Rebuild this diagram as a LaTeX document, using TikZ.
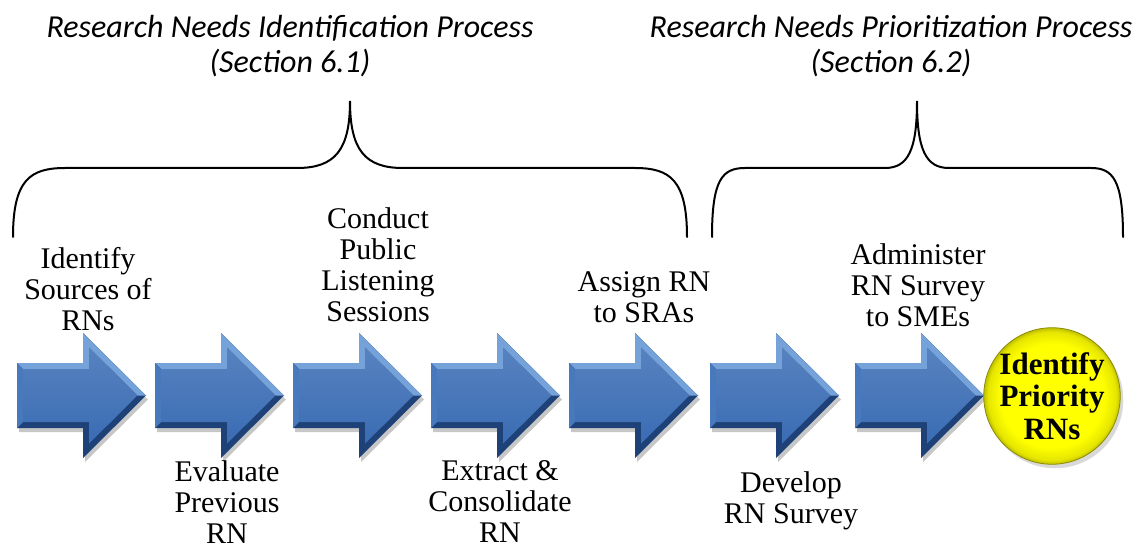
\documentclass[tikz,border=0pt]{standalone}
\usepackage{fontspec}
\setmainfont{Liberation Serif}
\newfontfamily\headfont{Carlito}
\usetikzlibrary{shadows}

\definecolor{stepblue}{RGB}{58,108,180}
\definecolor{steplight}{RGB}{118,162,218}
\definecolor{stepdark}{RGB}{30,66,120}
\definecolor{goalyellow}{RGB}{255,255,0}

% yellow button, flat centre with a darker rim
\pgfdeclareradialshading{goalball}{\pgfpoint{0bp}{0bp}}{color(0bp)=(goalyellow); color(19bp)=(goalyellow); color(23.5bp)=(goalyellow!90!black); color(25bp)=(goalyellow!75!black); color(50bp)=(goalyellow!75!black)}

% block arrow outline, #1 = left end
\newcommand{\steparrow}[1]{(#1,363) -- ({#1+66},363) -- ({#1+66},333) -- ({#1+129},395.5) -- ({#1+66},458) -- ({#1+66},428) -- (#1,428) -- cycle}

\begin{document}
\begin{tikzpicture}[x=1pt,y=-1pt,
  steptext/.style={font=\fontsize{30}{31}\selectfont,align=center,inner sep=0pt,anchor=north},
  sectiontitle/.style={font=\headfont\itshape\fontsize{32}{35}\selectfont,align=center,inner sep=0pt,anchor=north},
  brace/.style={line width=2pt,line cap=round},
  goal/.style={circle,minimum size=126pt,inner sep=0pt,align=center,shading=goalball,
    draw=goalyellow!55!black,line width=0.8pt,
    drop shadow={shadow xshift=3pt,shadow yshift=-4pt,opacity=.3},
    font=\fontsize{31}{32.5}\selectfont\bfseries}
]
\useasboundingbox (0,0) rectangle (1138,548);

% the seven process steps
\foreach \x in {17,155,293,431,569,710,855}{
  \fill[black,opacity=.22,shift={(2,4)}] \steparrow{\x};
  \fill[stepdark] \steparrow{\x};
  \fill[steplight] (\x,363) -- ({\x+66},363) -- ({\x+66},333) -- ({\x+129},395.5) -- ({\x+120.5},395.5)
    -- ({\x+72},347.4) -- ({\x+72},369) -- ({\x+6},369) -- cycle;
  \fill[stepblue!75!steplight] (\x,363) -- ({\x+6},369) -- ({\x+6},422) -- (\x,428) -- cycle;
  \shade[top color=stepblue!85!white,bottom color=stepblue] ({\x+6},369) -- ({\x+72},369) -- ({\x+72},347.4)
    -- ({\x+120.5},395.5) -- ({\x+72},443.6) -- ({\x+72},422) -- ({\x+6},422) -- cycle;
}

% braces over the two phases
\draw[brace] (13,237) .. controls (13,180) and (30,168) .. (65,168) -- (297,168)
  .. controls (335,168) and (350,150) .. (350,101) .. controls (350,150) and (365,168) .. (403,168)
  -- (635,168) .. controls (670,168) and (687,180) .. (687,237);
\draw[brace] (712,237) .. controls (712,180) and (722,168) .. (745,168) -- (885,168)
  .. controls (908,168) and (917,150) .. (917,101) .. controls (917,150) and (926,168) .. (949,168)
  -- (1091,168) .. controls (1113,168) and (1123,180) .. (1123,237);

\node[sectiontitle] (idtitle) at (290,15) {Research Needs Identification Process\\(Section 6.1)};
\node[sectiontitle] (prtitle) at (891,15) {Research Needs Prioritization Process\\(Section 6.2)};

\node[steptext] (s1) at (88,247.5) {Identify\\Sources of\\RNs};
\node[steptext] (s2) at (227,460) {Evaluate\\Previous\\RN};
\node[steptext] (s3) at (378,207.5) {Conduct\\Public\\Listening\\Sessions};
\node[steptext] (s4) at (500,460) {Extract \&\\Consolidate\\RN};
\node[steptext] (s5) at (644,271.5) {Assign RN\\to SRAs};
\node[steptext] (s6) at (791,471.5) {Develop\\RN Survey};
\node[steptext] (s7) at (918,243.5) {Administer\\RN Survey\\to SMEs};

\node[goal] (goal) at (1052,396) {Identify\\Priority\\RNs};
\end{tikzpicture}
\end{document}
